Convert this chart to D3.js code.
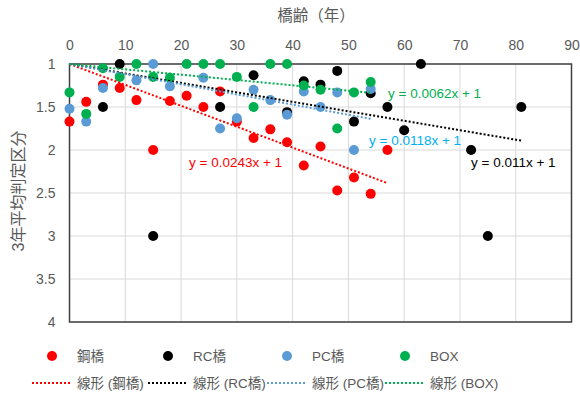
<!DOCTYPE html>
<html>
<head>
<meta charset="utf-8">
<script src="https://cdn.jsdelivr.net/npm/d3@7"></script>
<style>
  body { margin: 0; background: #fff; }
  svg { font-family: "Liberation Sans", "Noto Sans CJK JP", sans-serif; }
</style>
</head>
<body>
<svg width="580" height="398"></svg>
<script>
// series names, colours and trend slopes
let names = ["鋼橋", "RC橋", "PC橋", "BOX"];
let colors = ["#ff0000", "#000000", "#5b9bd5", "#00b050"];
let labelColors = ["#ff0000", "#000000", "#00b0f0", "#00b050"];
let slopes = [0.0243, 0.011, 0.0118, 0.0062];

// age (years) and 3-year average rating for each series
let steelX = [0, 3, 6, 9, 12, 15, 18, 21, 24, 27, 30, 33, 36, 39, 42, 45, 48, 51, 54, 57];
let steelY = [1.67, 1.44, 1.24, 1.28, 1.42, 2.0, 1.43, 1.37, 1.5, 1.32, 1.67, 1.86, 1.76, 1.91, 2.18, 1.96, 2.47, 2.32, 2.51, 2.0];
let rcX = [6, 9, 15, 27, 33, 39, 42, 45, 48, 51, 54, 57, 60, 63, 72, 75, 81];
let rcY = [1.5, 1.0, 3.0, 1.5, 1.13, 1.56, 1.2, 1.24, 1.08, 1.67, 1.34, 1.5, 1.77, 1.0, 2.0, 3.0, 1.5];
let pcX = [0, 3, 6, 12, 15, 18, 24, 27, 30, 33, 36, 39, 42, 45, 48, 51, 54];
let pcY = [1.52, 1.67, 1.28, 1.19, 1.0, 1.26, 1.16, 1.75, 1.63, 1.3, 1.42, 1.59, 1.32, 1.5, 1.33, 2.0, 1.29];
let boxX = [0, 3, 6, 9, 12, 15, 18, 21, 24, 27, 30, 33, 36, 39, 42, 45, 48, 51, 54];
let boxY = [1.33, 1.58, 1.05, 1.15, 1.0, 1.15, 1.16, 1.0, 1.0, 1.0, 1.15, 1.5, 1.0, 1.0, 1.25, 1.3, 1.75, 1.33, 1.21];

let xTicks = [0, 10, 20, 30, 40, 50, 60, 70, 80, 90];
let yTicks = [1, 1.5, 2, 2.5, 3, 3.5, 4];

let series = [[steelX, steelY], [rcX, rcY], [pcX, pcY], [boxX, boxY]].map((s, i) => ({
    name: names[i],
    color: colors[i],
    slope: slopes[i],
    points: s[0].map((x, j) => [x, s[1][j]])
}));

let svg = d3.select("svg");
let plotLeft = 69.5, plotRight = 571.5, plotTop = 64, plotBottom = 322;

let x = d3.scaleLinear().domain([0, 90]).range([plotLeft, plotRight]);
let y = d3.scaleLinear().domain([1, 4]).range([plotTop, plotBottom]);

// gridlines
svg.append("g")
    .selectAll("line")
    .data(xTicks)
    .enter()
    .append("line")
    .attr("x1", d => x(d)).attr("x2", d => x(d))
    .attr("y1", plotTop).attr("y2", plotBottom)
    .attr("stroke", "#d9d9d9").attr("stroke-width", 1);
svg.append("g")
    .selectAll("line")
    .data(yTicks)
    .enter()
    .append("line")
    .attr("x1", plotLeft).attr("x2", plotRight)
    .attr("y1", d => y(d)).attr("y2", d => y(d))
    .attr("stroke", "#d9d9d9").attr("stroke-width", 1);

// axes (top and left)
let xAxis = svg.append("g")
    .attr("transform", "translate(0," + plotTop + ")")
    .call(d3.axisTop(x).tickValues(xTicks).tickSize(0).tickPadding(14));
let yAxis = svg.append("g")
    .attr("transform", "translate(" + plotLeft + ",0)")
    .call(d3.axisLeft(y).tickValues(yTicks).tickSize(0).tickPadding(14).tickFormat(d3.format("")));
[xAxis, yAxis].forEach(a => {
    a.select(".domain").remove();
    a.selectAll("text").attr("fill", "#595959").style("font-size", "14px")
        .style("font-family", "Liberation Sans, sans-serif");
});

// plot border
svg.append("rect")
    .attr("x", plotLeft).attr("y", plotTop)
    .attr("width", plotRight - plotLeft).attr("height", plotBottom - plotTop)
    .attr("fill", "none").attr("stroke", "#404040").attr("stroke-width", 1.5);

// markers
series.forEach(s => {
    svg.append("g")
        .selectAll("circle")
        .data(s.points)
        .enter()
        .append("circle")
        .attr("cx", d => x(d[0]))
        .attr("cy", d => y(d[1]))
        .attr("r", 5)
        .attr("fill", s.color);
});

// linear trendlines through (0,1)
series.forEach(s => {
    let xmax = d3.max(s.points, d => d[0]);
    svg.append("line")
        .attr("x1", x(0)).attr("y1", y(1))
        .attr("x2", x(xmax)).attr("y2", y(1 + s.slope * xmax))
        .attr("stroke", s.color)
        .attr("stroke-width", 2)
        .attr("stroke-dasharray", "2,2");
});

// trendline equations
let eqPos = [[189, 166.5], [471, 166.5], [369, 144.5], [388, 98]];
series.forEach((s, i) => {
    svg.append("text")
        .attr("x", eqPos[i][0]).attr("y", eqPos[i][1])
        .attr("fill", labelColors[i])
        .style("font-size", "13.5px")
        .text("y = " + s.slope + "x + 1");
});

// axis titles
svg.append("text")
    .attr("x", 316).attr("y", 20.5)
    .attr("text-anchor", "middle")
    .attr("fill", "#595959")
    .style("font-size", "15.5px")
    .text("橋齢（年）");
svg.append("text")
    .attr("transform", "translate(24,191) rotate(-90)")
    .attr("text-anchor", "middle")
    .attr("fill", "#595959")
    .style("font-size", "16px")
    .text("3年平均判定区分");

// legend
let legendX = [52, 168, 287, 405];
series.forEach((s, i) => {
    let g = svg.append("g");
    g.append("circle")
        .attr("cx", legendX[i]).attr("cy", 356).attr("r", 5)
        .attr("fill", s.color);
    g.append("text")
        .attr("x", legendX[i] + 25).attr("y", 361)
        .attr("fill", "#595959").style("font-size", "13.5px")
        .text(s.name);
    g.append("line")
        .attr("x1", legendX[i] - 20).attr("x2", legendX[i] + 18)
        .attr("y1", 383).attr("y2", 383)
        .attr("stroke", s.color).attr("stroke-width", 2)
        .attr("stroke-dasharray", "2,2");
    g.append("text")
        .attr("x", legendX[i] + 25).attr("y", 388)
        .attr("fill", "#595959").style("font-size", "13.5px")
        .text("線形 (" + s.name + ")");
});
</script>
</body>
</html>
